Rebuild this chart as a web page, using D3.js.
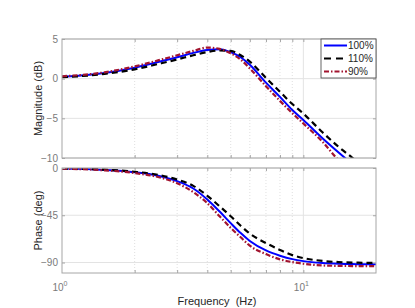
<!DOCTYPE html>
<html>
<head>
<meta charset="utf-8">
<title>Bode</title>
<style>
  body { margin: 0; background: #fff; }
  text { font-family: "Liberation Sans", Arial, sans-serif; }
</style>
</head>
<body>
<svg width="415" height="308"></svg>
<script src="https://d3js.org/d3.v7.min.js"></script>
<script>

var freq   = [1, 1.5, 2, 2.5, 3, 3.5, 4, 4.5, 5, 5.5, 6, 7, 8, 9, 10, 12, 14, 16, 18, 20];
var mag100 = [0.23, 0.72, 1.38, 2.1, 2.7, 3.25, 3.62, 3.72, 3.35, 2.7, 1.75, -0.5, -2.3, -3.95, -5.2, -7.5, -9.3, -10.8, -12.1, -13.3];
var mag110 = [0.18, 0.6, 1.18, 1.85, 2.42, 2.95, 3.35, 3.55, 3.5, 2.95, 2.15, 0.1, -1.65, -3.2, -4.4, -6.75, -8.6, -10.0, -11.3, -12.5];
var mag90  = [0.3, 0.8, 1.55, 2.3, 2.95, 3.5, 3.92, 3.75, 3.2, 2.4, 1.3, -0.95, -2.8, -4.35, -5.65, -7.95, -10.3, -11.95, -13.3, -14.5];
var ph100  = [-0.5, -1.8, -4, -7.3, -12.5, -19.5, -30, -41.5, -52.5, -62, -69.5, -78.5, -83.5, -86.8, -88.7, -90.5, -91.2, -91.5, -91.6, -91.6];
var ph110  = [-0.4, -1.6, -3.6, -6.5, -11, -17, -26.5, -36.5, -46, -55, -62.5, -71.5, -78, -83, -85.8, -88.5, -89.6, -90.1, -90.3, -90.4];
var ph90   = [-0.6, -2.2, -4.8, -8.6, -14.5, -23, -33.5, -46, -57, -66, -74, -82, -87, -89.6, -91.2, -92.8, -93.2, -93.4, -93.5, -93.5];

var seriesNames = ["100%", "110%", "90%"];
var magTicks = [5, 0, -5, -10];
var phTicks = [0, -45, -90];
var minorF = [2, 3, 4, 5, 6, 7, 8, 9];
var majorF = [1, 10];

var styles = [
  {color: "#0000ff", dash: null, w: 2},
  {color: "#000000", dash: "6,4", w: 2.2},
  {color: "#a2142f", dash: "5,2,1.5,2", w: 2.2}
];

var svg = d3.select("svg");

var x = d3.scaleLog().domain([1, 20]).range([62, 376]);
var yMag = d3.scaleLinear().domain([-10, 5]).range([158, 39]);
var yPh = d3.scaleLinear().domain([-100, 0]).range([273, 168]);

function panel(y, ticks, series, id) {
  var top = y.range()[1], bottom = y.range()[0];
  var left = x.range()[0], right = x.range()[1];
  var g = svg.append("g");

  g.append("clipPath").attr("id", id)
    .append("rect")
      .attr("x", left).attr("y", top)
      .attr("width", right - left).attr("height", bottom - top);

  // grid
  g.selectAll(".hg").data(ticks).enter().append("line")
      .attr("x1", left).attr("x2", right)
      .attr("y1", function(d) { return y(d); })
      .attr("y2", function(d) { return y(d); })
      .attr("stroke", "#e3e3e3").attr("stroke-width", 1);
  g.selectAll(".mg").data(minorF).enter().append("line")
      .attr("x1", function(d) { return x(d); })
      .attr("x2", function(d) { return x(d); })
      .attr("y1", top).attr("y2", bottom)
      .attr("stroke", "#d8d8d8").attr("stroke-width", 0.8)
      .attr("stroke-dasharray", "1,2");
  g.selectAll(".vg").data([10]).enter().append("line")
      .attr("x1", function(d) { return x(d); })
      .attr("x2", function(d) { return x(d); })
      .attr("y1", top).attr("y2", bottom)
      .attr("stroke", "#e3e3e3").attr("stroke-width", 1);

  // curves
  var line = d3.line()
      .x(function(d) { return x(d[0]); })
      .y(function(d) { return y(d[1]); })
      .curve(d3.curveMonotoneX);
  series.forEach(function(s, i) {
    g.append("path")
      .datum(d3.zip(freq, s))
      .attr("clip-path", "url(#" + id + ")")
      .attr("fill", "none")
      .attr("stroke", styles[i].color)
      .attr("stroke-width", styles[i].w)
      .attr("stroke-dasharray", styles[i].dash)
      .attr("d", line);
  });

  // box + ticks
  g.append("rect")
      .attr("x", left).attr("y", top)
      .attr("width", right - left).attr("height", bottom - top)
      .attr("fill", "none").attr("stroke", "#a6a6a6").attr("stroke-width", 1);

  var ax = g.append("g").attr("transform", "translate(" + left + ",0)")
      .call(d3.axisLeft(y).tickValues(ticks).tickSize(-3).tickPadding(4));
  ax.select(".domain").remove();
  ax.selectAll("line").attr("stroke", "#a6a6a6");
  ax.selectAll("text").attr("fill", "#7a7a7a").attr("font-size", 10)
      .attr("font-family", "Liberation Sans, Arial, sans-serif");

  var ar = g.append("g").attr("transform", "translate(" + right + ",0)")
      .call(d3.axisRight(y).tickValues(ticks).tickSize(-3).tickFormat(""));
  ar.select(".domain").remove();
  ar.selectAll("line").attr("stroke", "#a6a6a6");

  [[bottom, d3.axisBottom], [top, d3.axisTop]].forEach(function(p) {
    var a = g.append("g").attr("transform", "translate(0," + p[0] + ")")
        .call(p[1](x).tickValues(minorF.concat([10])).tickSize(-3).tickFormat(""));
    a.select(".domain").remove();
    a.selectAll("line").attr("stroke", "#a6a6a6");
  });
}

panel(yMag, magTicks, [mag100, mag110, mag90], "clipMag");
panel(yPh, phTicks, [ph100, ph110, ph90], "clipPh");

// x tick labels 10^n
var xl = svg.selectAll(".xl").data(majorF).enter().append("text")
    .attr("x", function(d) { return x(d) - 2; })
    .attr("y", 291)
    .attr("text-anchor", "middle")
    .attr("fill", "#7a7a7a")
    .attr("font-size", 10);
xl.append("tspan").text("10");
xl.append("tspan").attr("dy", -5).attr("font-size", 7)
    .text(function(d) { return Math.round(Math.log10(d)); });

svg.append("text")
    .attr("x", 217).attr("y", 305)
    .attr("text-anchor", "middle")
    .attr("fill", "#262626").attr("font-size", 11)
    .attr("xml:space", "preserve")
    .text("Frequency  (Hz)");

svg.append("text")
    .attr("transform", "translate(41.5," + 98.5 + ") rotate(-90)")
    .attr("text-anchor", "middle")
    .attr("fill", "#262626").attr("font-size", 11)
    .text("Magnitude (dB)");

svg.append("text")
    .attr("transform", "translate(41.5," + 220.5 + ") rotate(-90)")
    .attr("text-anchor", "middle")
    .attr("fill", "#262626").attr("font-size", 11)
    .text("Phase (deg)");

// legend
var lg = svg.append("g").attr("transform", "translate(321,39)");
lg.append("rect")
    .attr("width", 55).attr("height", 39)
    .attr("fill", "#fff").attr("stroke", "#404040").attr("stroke-width", 0.8);
var item = lg.selectAll(".li").data(seriesNames).enter().append("g")
    .attr("transform", function(d, i) { return "translate(0," + (6.5 + i * 13) + ")"; });
item.append("line")
    .attr("x1", 3).attr("x2", 26)
    .attr("stroke", function(d, i) { return styles[i].color; })
    .attr("stroke-width", 2)
    .attr("stroke-dasharray", function(d, i) { return i == 1 ? "7,5" : styles[i].dash; });
item.append("text")
    .attr("x", 27).attr("dy", "0.35em")
    .attr("fill", "#262626").attr("font-size", 10)
    .text(function(d) { return d; });

</script>
</body>
</html>
